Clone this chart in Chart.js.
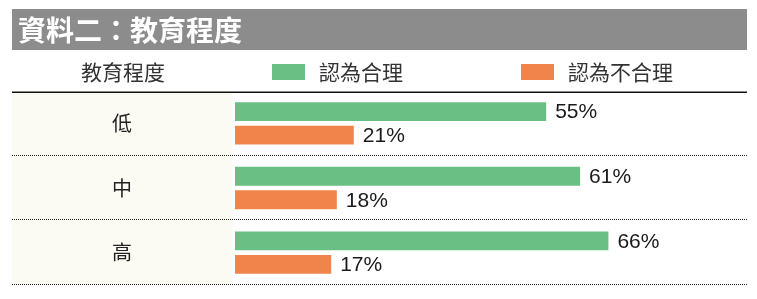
<!DOCTYPE html>
<html>
<head>
<meta charset="utf-8">
<script src="https://cdn.jsdelivr.net/npm/chart.js@4/dist/chart.umd.min.js"></script>
<style>
html,body{margin:0;padding:0;background:#ffffff;}
#wrap{width:757px;height:299px;position:relative;}
</style>
</head>
<body>
<div id="wrap"><canvas id="c" width="757" height="299"></canvas></div>
<script>
const titleText = '資料二：教育程度';
const headerText = '教育程度';
const categories = ['低', '中', '高'];
const seriesNames = ['認為合理', '認為不合理'];
const reasonable = [55, 61, 66];
const unreasonable = [21, 18, 17];
const seriesColors = ['#6abf85', '#f0854b'];

const CJK = '"Noto Sans CJK TC","Noto Sans CJK SC",sans-serif';
const LATIN = '"Liberation Sans",Arial,Helvetica,sans-serif';

const decor = {
  id: 'decor',
  beforeDraw(chart) {
    const ctx = chart.ctx;
    const area = chart.chartArea;
    ctx.save();
    ctx.fillStyle = '#8c8c8c';
    ctx.fillRect(12, 9, 735, 41);
    ctx.fillStyle = '#fcfbf3';
    ctx.fillRect(12, 93, 220, area.bottom - 93);
    ctx.restore();
  },
  afterDraw(chart) {
    const ctx = chart.ctx;
    const y = chart.scales.y;
    const area = chart.chartArea;
    ctx.save();
    ctx.textBaseline = 'middle';
    ctx.fillStyle = '#333333';
    ctx.font = '21px ' + CJK;
    ctx.textAlign = 'center';
    ctx.fillText(headerText, 123, 72);
    const boxX = [272, 521];
    chart.data.datasets.forEach((ds, i) => {
      ctx.fillStyle = ds.backgroundColor;
      ctx.fillRect(boxX[i], 64, 33, 16);
      ctx.fillStyle = '#333333';
      ctx.textAlign = 'left';
      ctx.fillText(ds.label, boxX[i] + 47, 72);
    });
    ctx.strokeStyle = '#111111';
    ctx.lineWidth = 1.5;
    ctx.beginPath();
    ctx.moveTo(12, 92.25);
    ctx.lineTo(747, 92.25);
    ctx.stroke();
    ctx.strokeStyle = '#222222';
    ctx.lineWidth = 1;
    ctx.setLineDash([1, 1]);
    const n = chart.data.labels.length;
    const step = (area.bottom - area.top) / n;
    for (let i = 0; i < n; i++) {
      const yy = Math.round(y.getPixelForValue(i) + step / 2) - 0.5;
      ctx.beginPath();
      ctx.moveTo(12, yy);
      ctx.lineTo(747, yy);
      ctx.stroke();
    }
    ctx.setLineDash([]);
    ctx.font = '21px ' + LATIN;
    ctx.fillStyle = '#1a1a1a';
    ctx.textAlign = 'left';
    ctx.textBaseline = 'middle';
    chart.data.datasets.forEach((ds, di) => {
      const meta = chart.getDatasetMeta(di);
      meta.data.forEach((bar, i) => {
        ctx.fillText(ds.data[i] + '%', bar.x + 9, bar.y + 1);
      });
    });
    ctx.restore();
  }
};

new Chart(document.getElementById('c'), {
  type: 'bar',
  data: {
    labels: categories,
    datasets: [
      { label: seriesNames[0], data: reasonable, backgroundColor: seriesColors[0] },
      { label: seriesNames[1], data: unreasonable, backgroundColor: seriesColors[1] }
    ]
  },
  options: {
    indexAxis: 'y',
    responsive: false,
    animation: false,
    devicePixelRatio: 1,
    datasets: { bar: { categoryPercentage: 0.727, barPercentage: 0.8, borderWidth: 0 } },
    layout: { padding: { left: 18, right: 10, top: 0, bottom: 14 } },
    plugins: {
      legend: { display: false },
      tooltip: { enabled: false },
      title: {
        display: true,
        text: titleText,
        align: 'start',
        color: '#ffffff',
        font: { family: CJK, size: 28, weight: 'bold', lineHeight: 1.2 },
        padding: { top: 14, bottom: 43.4 }
      }
    },
    scales: {
      x: { display: false, min: 0, max: 90.5 },
      y: {
        grid: { display: false, drawTicks: false },
        border: { display: false },
        ticks: { color: '#222222', font: { family: CJK, size: 20 }, padding: 103 },
        afterFit(scale) { scale.width = 217; scale.paddingTop = 0; scale.paddingBottom = 0; }
      }
    }
  },
  plugins: [decor]
});
</script>
</body>
</html>
